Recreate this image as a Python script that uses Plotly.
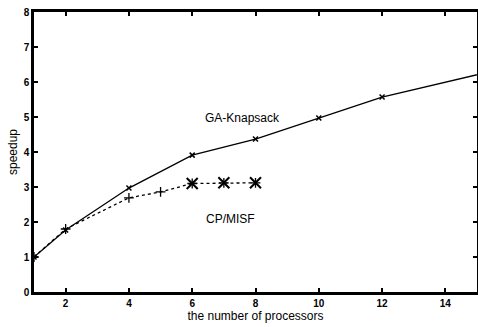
import plotly.graph_objects as go

ga_x = [1, 2, 4, 6, 8, 10, 12, 16]
ga_y = [1.0, 1.77, 2.97, 3.91, 4.37, 4.97, 5.57, 6.42]

cp_x = [1, 2, 4, 5, 6, 7, 8]
cp_y = [1.0, 1.8, 2.69, 2.86, 3.1, 3.12, 3.12]
cp_big_x = [6, 7, 8]
cp_big_y = [3.1, 3.12, 3.12]

x_ticks = [2, 4, 6, 8, 10, 12, 14]
y_ticks = [0, 1, 2, 3, 4, 5, 6, 7, 8]

fig = go.Figure()
fig.add_trace(go.Scatter(x=ga_x, y=ga_y, mode="lines+markers",
                         line=dict(color="black", width=1.3),
                         marker=dict(symbol="x-thin", size=5, color="black",
                                     line=dict(color="black", width=1.5)),
                         showlegend=False))
fig.add_trace(go.Scatter(x=cp_x, y=cp_y, mode="lines+markers",
                         line=dict(color="black", width=1.3, dash="dot"),
                         marker=dict(symbol="cross-thin", size=7, color="black",
                                     line=dict(color="black", width=1.3)),
                         showlegend=False))
fig.add_trace(go.Scatter(x=cp_big_x, y=cp_big_y, mode="markers",
                         marker=dict(symbol="x-thin", size=11, color="black",
                                     line=dict(color="black", width=2)),
                         showlegend=False))

fig.add_annotation(x=7.6, y=4.98, text="GA-Knapsack", showarrow=False,
                   font=dict(size=12, color="black", family="Liberation Sans"))
fig.add_annotation(x=7.2, y=2.1, text="CP/MISF", showarrow=False,
                   font=dict(size=12, color="black", family="Liberation Sans"))

axis_common = dict(showline=True, linecolor="black", linewidth=2.5, mirror="ticks",
                   ticks="inside", ticklen=4, tickwidth=2, tickcolor="black",
                   showgrid=False, zeroline=False, automargin=False,
                   tickfont=dict(size=10, color="black", family="Liberation Sans",
                                 weight="bold"))

fig.update_xaxes(range=[1, 15], tickvals=x_ticks,
                 title=dict(text="the number of processors", standoff=0,
                            font=dict(size=12, color="black", family="Liberation Sans")),
                 **axis_common)
fig.update_yaxes(range=[0, 8], tickvals=y_ticks,
                 title=dict(text="speedup", standoff=4,
                            font=dict(size=12, color="black", family="Liberation Sans")),
                 **axis_common)

fig.update_layout(width=478, height=327, margin=dict(l=34, r=1, t=12, b=35),
                  plot_bgcolor="white", paper_bgcolor="white",
                  font=dict(family="Liberation Sans", color="black"))

fig.write_html("out.html", config={"displayModeBar": False},
               post_script="document.body.style.margin='0';")
